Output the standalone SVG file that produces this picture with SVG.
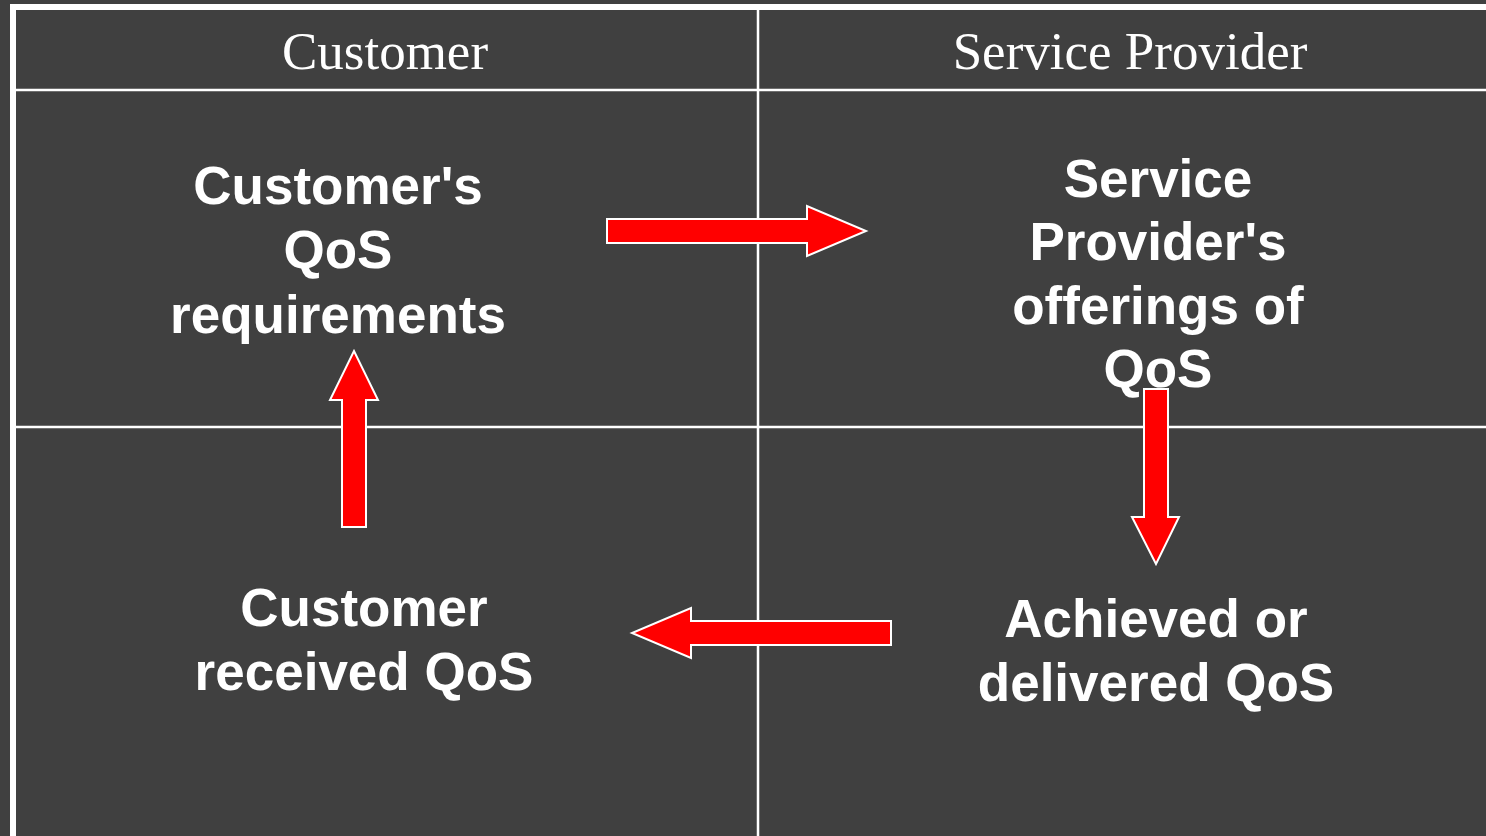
<svg xmlns="http://www.w3.org/2000/svg" width="1486" height="836" viewBox="0 0 1486 836">
  <defs>
    <style>
      .grid { stroke: #ffffff; fill: none; }
      .head { font-family: "Liberation Serif", "Times New Roman", serif; font-size: 53px; fill: #ffffff; text-anchor: middle; }
      .label { font-family: "Liberation Sans", Arial, sans-serif; font-weight: bold; font-size: 53px; fill: #ffffff; text-anchor: middle; }
      .arrow { fill: #ff0000; stroke: #ffffff; stroke-width: 2; stroke-linejoin: miter; }
    </style>
  </defs>

  <rect x="0" y="0" width="1486" height="836" fill="#404040"/>

  <!-- table frame and cell dividers -->
  <g id="table">
    <rect class="grid" x="13" y="7" width="1500" height="860" stroke-width="6"/>
    <line class="grid" x1="13" y1="90" x2="1486" y2="90" stroke-width="2.5"/>
    <line class="grid" x1="13" y1="427" x2="1486" y2="427" stroke-width="2.5"/>
    <line class="grid" x1="758" y1="7" x2="758" y2="836" stroke-width="2.5"/>
  </g>

  <!-- column headers -->
  <g id="header-customer">
    <text class="head" x="385" y="69">Customer</text>
  </g>
  <g id="header-provider">
    <text class="head" x="1130" y="69">Service Provider</text>
  </g>

  <!-- nodes -->
  <g id="customer-requirements">
    <text class="label" x="338" y="204">Customer's</text>
    <text class="label" x="338" y="268">QoS</text>
    <text class="label" x="338" y="333">requirements</text>
  </g>
  <g id="provider-offerings">
    <text class="label" x="1158" y="197">Service</text>
    <text class="label" x="1158" y="260">Provider's</text>
    <text class="label" x="1158" y="324">offerings of</text>
    <text class="label" x="1158" y="387">QoS</text>
  </g>
  <g id="delivered-qos">
    <text class="label" x="1156" y="637">Achieved or</text>
    <text class="label" x="1156" y="701">delivered QoS</text>
  </g>
  <g id="received-qos">
    <text class="label" x="364" y="626">Customer</text>
    <text class="label" x="364" y="690">received QoS</text>
  </g>

  <!-- block arrows between nodes -->
  <g id="connectors">
    <polygon class="arrow" points="607,219 807,219 807,206 866,231 807,256 807,243 607,243"/>
    <polygon class="arrow" points="1144,389 1168,389 1168,517 1179,517 1156,564 1132,517 1144,517"/>
    <polygon class="arrow" points="891,621 691,621 691,608 632,633 691,658 691,645 891,645"/>
    <polygon class="arrow" points="342,527 342,400 330,400 354,351 378,400 366,400 366,527"/>
  </g>
</svg>
